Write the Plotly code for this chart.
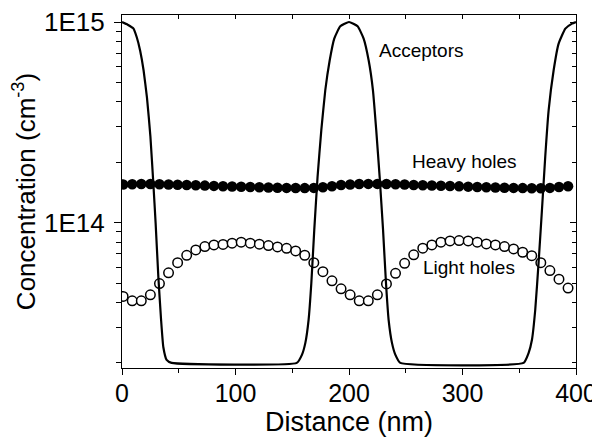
import plotly.graph_objects as go

# ---- data ----
acc_x = [0, 5, 10, 13, 16, 19, 22, 25, 27.6, 29.6, 32, 34.4, 36.4, 39.3, 43.7,
         154, 158.6, 161.5, 164.4, 166.8, 169.4, 172.3, 175.6, 179.1, 183, 187, 192.3,
         200, 207.6, 212.9, 217.3, 221.1, 224, 227, 230, 232.6, 234.9, 237.9, 240.8, 245.2,
         353.8, 358.2, 361.2, 364.1, 367, 370, 372.9, 375.9, 380.3, 384.7, 390.6, 396.5, 400]
acceptors = [1.0e15, 9.7e14, 9.3e14, 8.4e14, 7.2e14, 5.75e14, 4.2e14, 2.7e14, 1.57e14, 1.0e14,
             5.4e13, 3.3e13, 2.4e13, 2.07e13, 2.0e13,
             2.0e13, 2.2e13, 2.51e13, 3.28e13, 4.99e13, 9.2e13, 1.69e14, 2.89e14, 4.57e14, 6.45e14,
             8.27e14, 9.52e14,
             1.0e15, 9.52e14, 8.27e14, 6.45e14, 4.57e14, 2.89e14, 1.69e14, 9.2e13, 4.99e13, 3.28e13,
             2.51e13, 2.2e13, 2.0e13,
             2.0e13, 2.24e13, 2.61e13, 3.68e13, 6.28e13, 1.157e14, 2.13e14, 3.64e14, 5.75e14, 7.81e14,
             9.27e14, 9.82e14, 1.0e15]

holes_x = [1, 9, 17, 25, 33, 41, 49, 57, 65, 73, 81, 89, 97, 105, 113, 121, 129, 137, 145, 153,
           161, 169, 177, 185, 193, 201, 209, 217, 225, 233, 241, 249, 257, 265, 273, 281, 289, 297,
           305, 313, 321, 329, 337, 345, 353, 361, 369, 377, 385, 393]

heavy_holes = [1.55e14, 1.555e14, 1.557e14, 1.557e14, 1.555e14, 1.55e14, 1.545e14, 1.54e14, 1.535e14,
               1.53e14, 1.525e14, 1.52e14, 1.515e14, 1.51e14, 1.505e14, 1.50e14, 1.497e14, 1.494e14,
               1.49e14, 1.488e14, 1.487e14, 1.49e14, 1.50e14, 1.52e14, 1.54e14,
               1.55e14, 1.557e14, 1.56e14, 1.56e14, 1.557e14, 1.553e14, 1.548e14, 1.542e14, 1.537e14,
               1.532e14, 1.527e14, 1.522e14, 1.517e14, 1.512e14, 1.507e14, 1.502e14, 1.498e14,
               1.494e14, 1.49e14, 1.487e14, 1.485e14, 1.484e14, 1.49e14, 1.505e14, 1.52e14]

light_holes = [4.29e13, 4.08e13, 4.08e13, 4.37e13, 4.97e13, 5.62e13, 6.32e13, 6.87e13, 7.31e13,
               7.60e13, 7.74e13, 7.79e13, 7.90e13, 7.99e13, 7.90e13, 7.81e13, 7.69e13, 7.57e13,
               7.45e13, 7.23e13, 6.88e13, 6.32e13, 5.70e13, 5.13e13, 4.68e13,
               4.37e13, 4.08e13, 4.08e13, 4.37e13, 4.95e13, 5.59e13, 6.27e13, 6.91e13, 7.46e13,
               7.74e13, 7.99e13, 8.11e13, 8.14e13, 8.11e13, 7.99e13, 7.83e13, 7.74e13, 7.60e13,
               7.40e13, 7.12e13, 6.85e13, 6.32e13, 5.77e13, 5.23e13, 4.72e13]

x_ticks = [0, 100, 200, 300, 400]
x_minor = [50, 150, 250, 350]
y_ticks = [1e14, 1e15]
y_tick_text = ["1E14", "1E15"]
y_minor = [2e13, 3e13, 4e13, 5e13, 6e13, 7e13, 8e13, 9e13,
           2e14, 3e14, 4e14, 5e14, 6e14, 7e14, 8e14, 9e14]

FONT = "Liberation Sans, Arial, sans-serif"
YR = [13.2756, 15.035]
XR = [0, 400]

fig = go.Figure()
fig.add_trace(go.Scatter(x=holes_x, y=heavy_holes, mode="markers",
                         marker=dict(symbol="circle", size=10.5, color="black", line=dict(width=0)),
                         name="Heavy holes"))
fig.add_trace(go.Scatter(x=holes_x, y=light_holes, mode="markers",
                         marker=dict(symbol="circle", size=9.5, color="white",
                                     line=dict(width=1.5, color="black")),
                         name="Light holes"))
fig.add_trace(go.Scatter(x=acc_x, y=acceptors, mode="lines", xaxis="x2", yaxis="y2",
                         line=dict(color="black", width=2.2, shape="spline", smoothing=0.4),
                         name="Acceptors"))

# the page body has an 8px margin, so the figure is sized/offset to compensate
fig.update_layout(
    width=592, height=430,
    margin=dict(l=114, r=24, t=7, b=70, autoexpand=False),
    paper_bgcolor="white", plot_bgcolor="white",
    showlegend=False,
    font=dict(family=FONT, color="black"),
    xaxis=dict(range=XR, showgrid=False, zeroline=False, automargin=False,
               showline=True, linecolor="black", linewidth=1.2, ticklabeloverflow="allow",
               tickmode="array", tickvals=x_ticks, ticks="outside", ticklen=6, tickwidth=1.2,
               tickcolor="black", tickfont=dict(size=25, family=FONT), ticklabelstandoff=-3,
               minor=dict(tickmode="array", tickvals=x_minor, ticks="outside", ticklen=4,
                          tickwidth=1.2, tickcolor="black", showgrid=False),
               title=dict(text="Distance (nm)", font=dict(size=27, family=FONT), standoff=0)),
    yaxis=dict(type="log", range=YR, showgrid=False, zeroline=False, automargin=False,
               showline=True, linecolor="black", linewidth=1.2, ticklabeloverflow="allow",
               tickmode="array", tickvals=y_ticks, ticktext=y_tick_text,
               ticks="outside", ticklen=7, tickwidth=1.2, tickcolor="black",
               tickfont=dict(size=26, family=FONT), ticklabelstandoff=4,
               minor=dict(tickmode="array", tickvals=y_minor, ticks="outside", ticklen=5,
                          tickwidth=1.2, tickcolor="black", showgrid=False),
               title=dict(text="Concentration (cm<sup>-3</sup>)", font=dict(size=26, family=FONT),
                          standoff=0)),
    xaxis2=dict(range=XR, overlaying="x", side="top", showgrid=False, zeroline=False,
                showline=True, linecolor="black", linewidth=1.2, automargin=False,
                tickmode="linear", tick0=0, dtick=50, ticks="inside", ticklen=4, tickwidth=1.2,
                tickcolor="black", showticklabels=False),
    yaxis2=dict(type="log", range=YR, overlaying="y", side="right", showgrid=False,
                zeroline=False, showline=True, linecolor="black", linewidth=1.2, automargin=False,
                tickmode="array", tickvals=y_ticks, ticks="inside", ticklen=6, tickwidth=1.2,
                tickcolor="black", showticklabels=False,
                minor=dict(tickmode="array", tickvals=y_minor, ticks="inside", ticklen=4,
                           tickwidth=1.2, tickcolor="black", showgrid=False)),
    annotations=[
        dict(x=224.7, y=14.86, xref="x", yref="y", text="Acceptors", showarrow=False,
             xanchor="left", yanchor="middle", font=dict(size=19, family=FONT)),
        dict(x=254, y=14.305, xref="x", yref="y", text="Heavy holes", showarrow=False,
             xanchor="left", yanchor="middle", font=dict(size=19, family=FONT)),
        dict(x=263.4, y=13.777, xref="x", yref="y", text="Light holes", showarrow=False,
             xanchor="left", yanchor="middle", font=dict(size=19, family=FONT)),
    ],
)

fig.write_html("out.html")
